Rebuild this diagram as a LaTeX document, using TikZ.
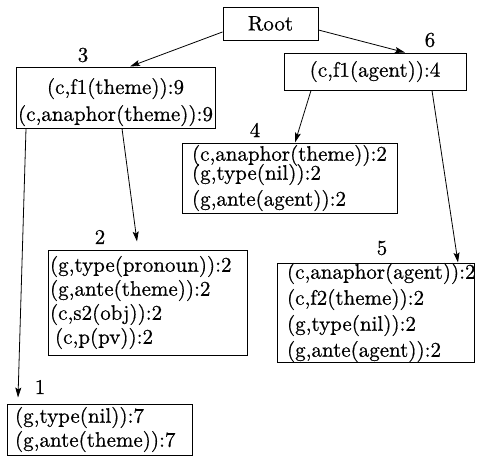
\documentclass[tikz,border=0pt]{standalone}
\usepackage{fontspec}
\setmainfont{lmroman10-regular}[Extension=.otf, FakeBold=0.6]
\usetikzlibrary{arrows.meta}
\begin{document}
\begin{tikzpicture}[x=1pt,y=-1pt,
  box/.style={draw, line width=1pt, inner ysep=0pt, font=\fontsize{21}{24}\selectfont},
  lbl/.style={font=\fontsize{21}{24}\selectfont, inner sep=0pt},
  arr/.style={-{Stealth[length=10pt,width=6pt,inset=2pt]}, line width=0.8pt}]
\useasboundingbox (0,0) rectangle (485,456);
% boxes
\node[box, inner xsep=0pt, text width=95pt, minimum height=33pt, align=center] (root) at (270.5,23.5) {Root};
\node[box, inner xsep=1pt, text width=197pt, minimum height=61pt, align=center] (n3) at (115.5,97.5) {\rule{0pt}{25pt}(c,f1(theme)):9\\[3pt](c,anaphor(theme)):9};
\node[box, inner xsep=0pt, text width=182pt, minimum height=37pt, align=center] (n6) at (375,71.5) {(c,f1(agent)):4};
\node[box, inner xsep=10pt, text width=195pt, minimum height=70pt, align=left] (n4) at (289.5,178) {(c,anaphor(theme)):2\\[-5pt](g,type(nil)):2\\[2pt](g,ante(agent)):2};
\node[box, inner xsep=2pt, text width=195pt, minimum height=105pt, align=left] (n2) at (147.5,302.5) {(g,type(pronoun)):2\\(g,ante(theme)):2\\(c,s2(obj)):2\\\hspace{5pt}(c,p(pv)):2};
\node[box, inner xsep=10pt, text width=177pt, minimum height=97pt, align=left] (n5) at (375.5,312.5) {(c,anaphor(agent)):2\\[2pt](c,f2(theme)):2\\[2pt](g,type(nil)):2\\[2pt](g,ante(agent)):2};
\node[box, inner xsep=8pt, text width=169pt, minimum height=51pt, align=left] (n1) at (99.5,429.5) {(g,type(nil)):7\\(g,ante(theme)):7};
% labels
\node[lbl] (l3) at (83,55) {3};
\node[lbl] (l6) at (430,40) {6};
\node[lbl] (l4) at (255,130) {4};
\node[lbl] (l2) at (100,237) {2};
\node[lbl] (l5) at (382,248) {5};
\node[lbl] (l1) at (40,387) {1};
% arrows
\draw[arr] (root.190) -- ([xshift=14.5pt]n3.north);
\draw[arr] ([yshift=-6.5pt]root.east) -- ([xshift=30pt]n6.north);
\draw[arr] ([xshift=-64pt]n6.south) -- ([xshift=5.5pt]n4.north);
\draw[arr] ([xshift=57pt]n6.south) -- ([xshift=82.5pt]n5.north);
\draw[arr] ([xshift=6.5pt]n3.south) -- ([xshift=-10.5pt,yshift=8pt]n2.north);
\draw[arr] ([xshift=-89.5pt]n3.south) -- ([xshift=-81.5pt,yshift=6pt]n1.north);
\end{tikzpicture}
\end{document}
